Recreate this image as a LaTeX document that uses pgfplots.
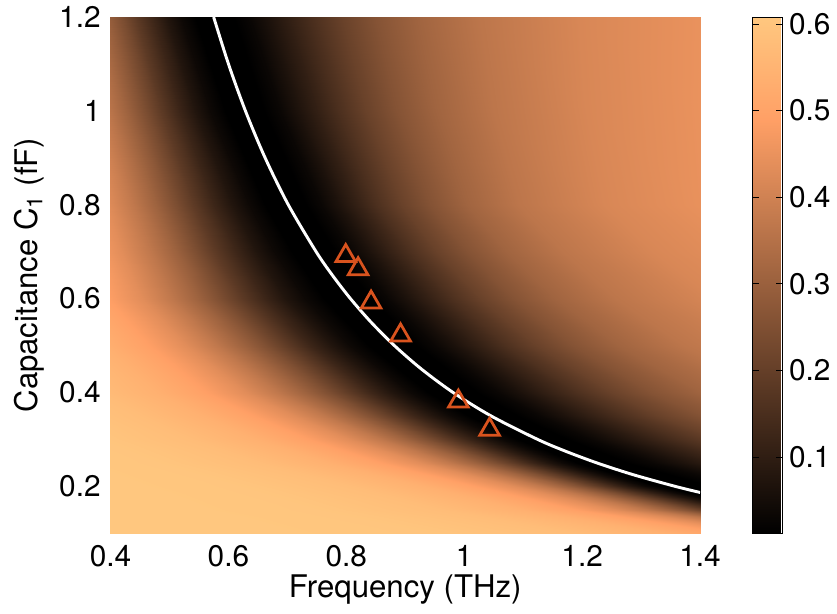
\documentclass[border=0pt]{standalone}
\usepackage{pgfplots}
\pgfplotsset{compat=1.18}
\usepackage{fontspec}
\setmainfont{TeX Gyre Heros}
\definecolor{tri}{RGB}{217,83,30}
\begin{document}
\begin{tikzpicture}
\begin{axis}[
  name=main,
  scale only axis, width=301.5bp, height=264bp,
  xmin=0.4, xmax=1.4, ymin=0.1, ymax=1.2,
  xtick={0.4,0.6,0.8,1,1.2,1.4}, ytick={0.2,0.4,0.6,0.8,1,1.2},
  axis line style={draw=none}, major tick length=0pt,
  tick label style={font=\fontsize{15.3}{18}\selectfont},
  label style={font=\fontsize{16}{19}\selectfont},
  /pgf/number format/assume math mode=true,
  xticklabel style={yshift=-2.5bp},
  yticklabel style={xshift=-1.5bp},
  xlabel={Frequency (THz)},
  ylabel={Capacitance C\textsubscript{1} (fF)},
  xlabel style={at={(axis description cs:0.5,-0.108)}, anchor=center},
  ylabel style={at={(axis description cs:-0.138,0.5)}, anchor=center},
  colormap={copper}{rgb(0cm)=(0,0,0); rgb(8cm)=(1,0.625,0.398); rgb(10cm)=(1,0.7812,0.4975)},
  point meta min=0.012, point meta max=0.608,
  colorbar,
  colorbar style={
    at={(parent axis.north east)}, anchor=north west, xshift=18.5bp,
    width=15bp,
    ytick={0.1,0.2,0.3,0.4,0.5,0.6},
    yticklabel pos=right,
    tick align=inside, major tick length=3bp,
    tick style={black, line width=0.4bp},
    axis line style={black, line width=0.5bp},
    yticklabel style={font=\fontsize{15.3}{18}\selectfont},
    /pgf/number format/assume math mode=true,
  },
]
\addplot[surf, shader=interp, mesh/cols=28, point meta=explicit] table[x=f, y=C, meta=v] {
f C v
0.3868 0.1 0.6181
0.6493 0.1 0.6138
0.9516 0.1 0.6014
1.1861 0.1 0.5766
1.3415 0.1 0.5394
1.4396 0.1 0.4960
1.5250 0.1 0.4340
1.5830 0.1 0.3720
1.6276 0.1 0.3100
1.6652 0.1 0.2480
1.6991 0.1 0.1860
1.7321 0.1 0.1240
1.7606 0.1 0.0744
1.7865 0.1 0.0372
1.8111 0.1 0.0124
1.8438 0.1 0
1.9245 0.1 0.0104
1.9888 0.1 0.0312
2.0593 0.1 0.0624
2.1410 0.1 0.1040
2.2411 0.1 0.1560
2.3499 0.1 0.2080
2.4781 0.1 0.2600
2.6417 0.1 0.3120
2.8730 0.1 0.3640
3.2564 0.1 0.4160
3.7649 0.1 0.4524
4.7483 0.1 0.4836
0.3021 0.15 0.6181
0.5124 0.15 0.6138
0.7623 0.15 0.6014
0.9624 0.15 0.5766
1.0978 0.15 0.5394
1.1841 0.15 0.4960
1.2599 0.15 0.4340
1.3116 0.15 0.3720
1.3515 0.15 0.3100
1.3851 0.15 0.2480
1.4156 0.15 0.1860
1.4453 0.15 0.1240
1.4710 0.15 0.0744
1.4944 0.15 0.0372
1.5167 0.15 0.0124
1.5462 0.15 0
1.6139 0.15 0.0104
1.6678 0.15 0.0312
1.7269 0.15 0.0624
1.7954 0.15 0.1040
1.8794 0.15 0.1560
1.9707 0.15 0.2080
2.0781 0.15 0.2600
2.2154 0.15 0.3120
2.4094 0.15 0.3640
2.7309 0.15 0.4160
3.1573 0.15 0.4524
3.9820 0.15 0.4836
0.2405 0.2 0.6181
0.4128 0.2 0.6138
0.6265 0.2 0.6014
0.8051 0.2 0.5766
0.9296 0.2 0.5394
1.0103 0.2 0.4960
1.0819 0.2 0.4340
1.1311 0.2 0.3720
1.1693 0.2 0.3100
1.2017 0.2 0.2480
1.2310 0.2 0.1860
1.2598 0.2 0.1240
1.2847 0.2 0.0744
1.3073 0.2 0.0372
1.3290 0.2 0.0124
1.3578 0.2 0
1.4173 0.2 0.0104
1.4646 0.2 0.0312
1.5165 0.2 0.0624
1.5767 0.2 0.1040
1.6504 0.2 0.1560
1.7306 0.2 0.2080
1.8250 0.2 0.2600
1.9454 0.2 0.3120
2.1158 0.2 0.3640
2.3982 0.2 0.4160
2.7726 0.2 0.4524
3.4968 0.2 0.4836
0.1778 0.25 0.6181
0.3112 0.25 0.6138
0.4893 0.25 0.6014
0.6514 0.25 0.5766
0.7717 0.25 0.5394
0.8528 0.25 0.4960
0.9267 0.25 0.4340
0.9784 0.25 0.3720
1.0191 0.25 0.3100
1.0538 0.25 0.2480
1.0855 0.25 0.1860
1.1168 0.25 0.1240
1.1441 0.25 0.0744
1.1690 0.25 0.0372
1.1929 0.25 0.0124
1.2249 0.25 0
1.2785 0.25 0.0104
1.3213 0.25 0.0312
1.3681 0.25 0.0624
1.4223 0.25 0.1040
1.4888 0.25 0.1560
1.5612 0.25 0.2080
1.6463 0.25 0.2600
1.7550 0.25 0.3120
1.9087 0.25 0.3640
2.1634 0.25 0.4160
2.5012 0.25 0.4524
3.1545 0.25 0.4836
0.1351 0.3 0.6181
0.2398 0.3 0.6138
0.3874 0.3 0.6014
0.5322 0.3 0.5766
0.6467 0.3 0.5394
0.7272 0.3 0.4960
0.8027 0.3 0.4340
0.8567 0.3 0.3720
0.8997 0.3 0.3100
0.9369 0.3 0.2480
0.9711 0.3 0.1860
1.0052 0.3 0.1240
1.0351 0.3 0.0744
1.0625 0.3 0.0372
1.0891 0.3 0.0124
1.1246 0.3 0
1.1739 0.3 0.0104
1.2131 0.3 0.0312
1.2561 0.3 0.0624
1.3059 0.3 0.1040
1.3670 0.3 0.1560
1.4334 0.3 0.2080
1.5116 0.3 0.2600
1.6114 0.3 0.3120
1.7525 0.3 0.3640
1.9863 0.3 0.4160
2.2965 0.3 0.4524
2.8963 0.3 0.4836
0.1091 0.35 0.6181
0.1950 0.35 0.6138
0.3204 0.35 0.6014
0.4496 0.35 0.5766
0.5568 0.35 0.5394
0.6348 0.35 0.4960
0.7098 0.35 0.4340
0.7644 0.35 0.3720
0.8085 0.35 0.3100
0.8469 0.35 0.2480
0.8826 0.35 0.1860
0.9184 0.35 0.1240
0.9500 0.35 0.0744
0.9791 0.35 0.0372
1.0075 0.35 0.0124
1.0456 0.35 0
1.0913 0.35 0.0104
1.1278 0.35 0.0312
1.1678 0.35 0.0624
1.2141 0.35 0.1040
1.2709 0.35 0.1560
1.3326 0.35 0.2080
1.4053 0.35 0.2600
1.4981 0.35 0.3120
1.6292 0.35 0.3640
1.8467 0.35 0.4160
2.1350 0.35 0.4524
2.6927 0.35 0.4836
0.0890 0.4 0.6181
0.1600 0.4 0.6138
0.2664 0.4 0.6014
0.3810 0.4 0.5766
0.4805 0.4 0.5394
0.5555 0.4 0.4960
0.6296 0.4 0.4340
0.6848 0.4 0.3720
0.7300 0.4 0.3100
0.7698 0.4 0.2480
0.8072 0.4 0.1860
0.8449 0.4 0.1240
0.8784 0.4 0.0744
0.9096 0.4 0.0372
0.9400 0.4 0.0124
0.9811 0.4 0
1.0241 0.4 0.0104
1.0583 0.4 0.0312
1.0958 0.4 0.0624
1.1393 0.4 0.1040
1.1925 0.4 0.1560
1.2505 0.4 0.2080
1.3186 0.4 0.2600
1.4057 0.4 0.3120
1.5288 0.4 0.3640
1.7328 0.4 0.4160
2.0034 0.4 0.4524
2.5267 0.4 0.4836
0.0686 0.5 0.6181
0.1241 0.5 0.6138
0.2090 0.5 0.6014
0.3043 0.5 0.5766
0.3910 0.5 0.5394
0.4589 0.5 0.4960
0.5283 0.5 0.4340
0.5812 0.5 0.3720
0.6254 0.5 0.3100
0.6648 0.5 0.2480
0.7023 0.5 0.1860
0.7406 0.5 0.1240
0.7749 0.5 0.0744
0.8069 0.5 0.0372
0.8385 0.5 0.0124
0.8815 0.5 0
0.9200 0.5 0.0104
0.9508 0.5 0.0312
0.9845 0.5 0.0624
1.0235 0.5 0.1040
1.0714 0.5 0.1560
1.1234 0.5 0.2080
1.1847 0.5 0.2600
1.2629 0.5 0.3120
1.3735 0.5 0.3640
1.5568 0.5 0.4160
1.7999 0.5 0.4524
2.2700 0.5 0.4836
0.0551 0.6 0.6181
0.0998 0.6 0.6138
0.1696 0.6 0.6014
0.2502 0.6 0.5766
0.3262 0.6 0.5394
0.3879 0.6 0.4960
0.4527 0.6 0.4340
0.5033 0.6 0.3720
0.5464 0.6 0.3100
0.5854 0.6 0.2480
0.6229 0.6 0.1860
0.6616 0.6 0.1240
0.6966 0.6 0.0744
0.7296 0.6 0.0372
0.7622 0.6 0.0124
0.8070 0.6 0
0.8424 0.6 0.0104
0.8705 0.6 0.0312
0.9014 0.6 0.0624
0.9371 0.6 0.1040
0.9810 0.6 0.1560
1.0286 0.6 0.2080
1.0847 0.6 0.2600
1.1563 0.6 0.3120
1.2576 0.6 0.3640
1.4254 0.6 0.4160
1.6479 0.6 0.4524
2.0784 0.6 0.4836
0.0511 0.7 0.6181
0.0926 0.7 0.6138
0.1573 0.7 0.6014
0.2321 0.7 0.5766
0.3027 0.7 0.5394
0.3599 0.7 0.4960
0.4200 0.7 0.4340
0.4670 0.7 0.3720
0.5070 0.7 0.3100
0.5432 0.7 0.2480
0.5780 0.7 0.1860
0.6139 0.7 0.1240
0.6463 0.7 0.0744
0.6769 0.7 0.0372
0.7072 0.7 0.0124
0.7488 0.7 0
0.7816 0.7 0.0104
0.8077 0.7 0.0312
0.8363 0.7 0.0624
0.8695 0.7 0.1040
0.9102 0.7 0.1560
0.9544 0.7 0.2080
1.0064 0.7 0.2600
1.0728 0.7 0.3120
1.1668 0.7 0.3640
1.3225 0.7 0.4160
1.5290 0.7 0.4524
1.9284 0.7 0.4836
0.0479 0.8 0.6181
0.0868 0.8 0.6138
0.1474 0.8 0.6014
0.2175 0.8 0.5766
0.2836 0.8 0.5394
0.3372 0.8 0.4960
0.3935 0.8 0.4340
0.4375 0.8 0.3720
0.4750 0.8 0.3100
0.5089 0.8 0.2480
0.5415 0.8 0.1860
0.5751 0.8 0.1240
0.6055 0.8 0.0744
0.6342 0.8 0.0372
0.6626 0.8 0.0124
0.7016 0.8 0
0.7323 0.8 0.0104
0.7567 0.8 0.0312
0.7836 0.8 0.0624
0.8146 0.8 0.1040
0.8527 0.8 0.1560
0.8941 0.8 0.2080
0.9429 0.8 0.2600
1.0052 0.8 0.3120
1.0932 0.8 0.3640
1.2391 0.8 0.4160
1.4325 0.8 0.4524
1.8067 0.8 0.4836
0.0429 1.0 0.6181
0.0778 1.0 0.6138
0.1322 1.0 0.6014
0.1950 1.0 0.5766
0.2542 1.0 0.5394
0.3023 1.0 0.4960
0.3528 1.0 0.4340
0.3922 1.0 0.3720
0.4258 1.0 0.3100
0.4562 1.0 0.2480
0.4854 1.0 0.1860
0.5156 1.0 0.1240
0.5428 1.0 0.0744
0.5686 1.0 0.0372
0.5940 1.0 0.0124
0.6289 1.0 0
0.6611 1.0 0.0104
0.6870 1.0 0.0312
0.7154 1.0 0.0624
0.7485 1.0 0.1040
0.7893 1.0 0.1560
0.8338 1.0 0.2080
0.8864 1.0 0.2600
0.9538 1.0 0.3120
1.0494 1.0 0.3640
1.2079 1.0 0.4160
1.4179 1.0 0.4524
1.8218 1.0 0.4836
0.0392 1.2 0.6181
0.0711 1.2 0.6138
0.1208 1.2 0.6014
0.1782 1.2 0.5766
0.2324 1.2 0.5394
0.2764 1.2 0.4960
0.3225 1.2 0.4340
0.3586 1.2 0.3720
0.3893 1.2 0.3100
0.4171 1.2 0.2480
0.4438 1.2 0.1860
0.4714 1.2 0.1240
0.4963 1.2 0.0744
0.5198 1.2 0.0372
0.5431 1.2 0.0124
0.5750 1.2 0
0.6088 1.2 0.0104
0.6360 1.2 0.0312
0.6662 1.2 0.0624
0.7014 1.2 0.1040
0.7449 1.2 0.1560
0.7927 1.2 0.2080
0.8493 1.2 0.2600
0.9219 1.2 0.3120
1.0251 1.2 0.3640
1.1963 1.2 0.4160
1.4224 1.2 0.4524
1.8548 1.2 0.4836
};
\addplot[white, line width=1.5bp, smooth] coordinates {
(0.5750,1.2) (0.6001,1.1) (0.6289,1.0) (0.6623,0.9) (0.7016,0.8)
(0.7488,0.7) (0.7763,0.65) (0.8070,0.6) (0.8418,0.55) (0.8815,0.5)
(0.9273,0.45) (0.9811,0.4) (1.0456,0.35) (1.1246,0.3) (1.1716,0.275)
(1.2249,0.25) (1.2862,0.225) (1.3578,0.2) (1.4,0.1870)};
\addplot[only marks, mark=triangle, mark size=5.8bp,
  mark options={draw=tri, line width=1.4bp, solid, fill=none}] coordinates {
(0.799,0.691) (0.820,0.663) (0.842,0.592) (0.892,0.522) (0.990,0.381) (1.043,0.321)};
\end{axis}
\path (main.south west) ++(-56.5bp,-41bp) rectangle ++(418.5bp,312.5bp);
\end{tikzpicture}
\end{document}
